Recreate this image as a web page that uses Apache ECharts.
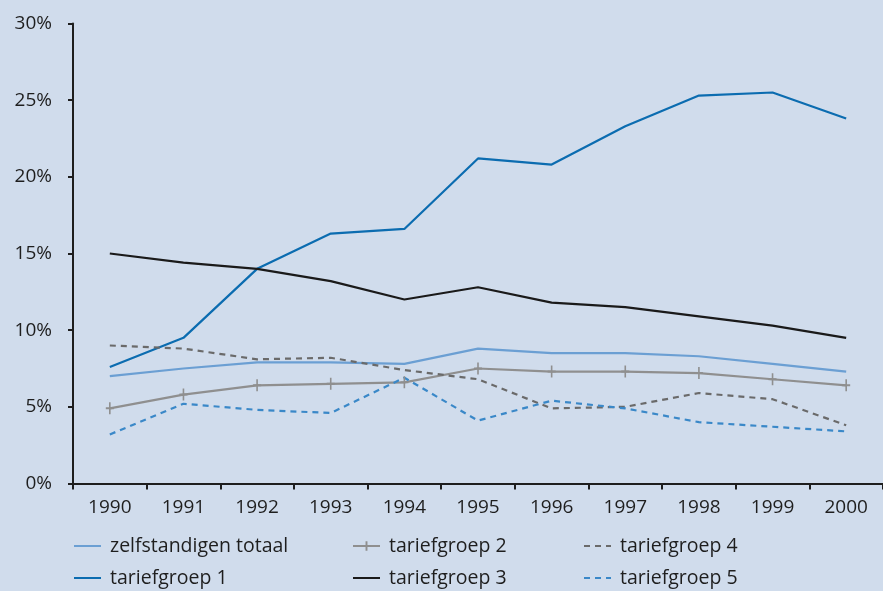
<!DOCTYPE html>
<html>
<head>
<meta charset="utf-8">
<script src="https://cdn.jsdelivr.net/npm/echarts@6/dist/echarts.min.js"></script>
<style>
  html, body {margin: 0; padding: 0; background: #d0dcec;}
  #display {width: 883px; height: 591px;}
</style>
</head>
<body>
<div id="display"></div>
<script>
var years = ['1990', '1991', '1992', '1993', '1994', '1995', '1996', '1997', '1998', '1999', '2000'];
var zelfstandigen = [7.0, 7.5, 7.9, 7.9, 7.8, 8.8, 8.5, 8.5, 8.3, 7.8, 7.3];
var groep1 = [7.6, 9.5, 14.0, 16.3, 16.6, 21.2, 20.8, 23.3, 25.3, 25.5, 23.8];
var groep2 = [4.9, 5.8, 6.4, 6.5, 6.6, 7.5, 7.3, 7.3, 7.2, 6.8, 6.4];
var groep3 = [15.0, 14.4, 14.0, 13.2, 12.0, 12.8, 11.8, 11.5, 10.9, 10.3, 9.5];
var groep4 = [9.0, 8.8, 8.1, 8.2, 7.4, 6.8, 4.9, 5.0, 5.9, 5.5, 3.8];
var groep5 = [3.2, 5.2, 4.8, 4.6, 6.9, 4.1, 5.4, 4.9, 4.0, 3.7, 3.4];
var yTicks = [0, 5, 10, 15, 20, 25, 30];

var font = '"Open Sans", "Noto Sans", sans-serif';
var plus = 'path://M-1,-6 L1,-6 L1,-1 L5,-1 L5,1 L1,1 L1,6 L-1,6 L-1,1 L-5,1 L-5,-1 L-1,-1 Z';

function mkSeries(name, data, color, type, symbol) {
    return {
        name: name,
        type: 'line',
        data: data,
        symbol: symbol || 'none',
        symbolSize: [8, 12],
        showSymbol: !!symbol,
        itemStyle: {color: color},
        lineStyle: {color: color, width: 2.2, type: type || 'solid'},
        animation: false,
        z: 3
    };
}

function mkLegend(name, left, top, keepSymbol) {
    var lg = {
        data: [name],
        left: left,
        top: top,
        padding: 0,
        itemWidth: 27,
        itemHeight: 12,
        itemGap: 0,
        textStyle: {fontFamily: font, fontSize: 19.5, color: '#1e1e1e', padding: [0, 0, 0, 4]},
        selectedMode: false
    };
    if (!keepSymbol) {
        lg.itemStyle = {color: 'rgba(0,0,0,0)', borderColor: 'rgba(0,0,0,0)', borderWidth: 0, opacity: 0};
    }
    return lg;
}

var myChart = echarts.init(document.getElementById('display'));
myChart.setOption({
    backgroundColor: '#d0dcec',
    grid: {left: 73, right: -2, top: 23.5, bottom: 107.5},
    xAxis: {
        type: 'category',
        data: years,
        boundaryGap: true,
        axisLine: {lineStyle: {color: '#1e1e1e', width: 2}},
        axisTick: {show: true, length: 6, lineStyle: {color: '#1e1e1e', width: 2}},
        axisLabel: {fontFamily: font, fontSize: 19, color: '#1e1e1e', margin: 15}
    },
    yAxis: {
        type: 'value',
        min: yTicks[0],
        max: yTicks[yTicks.length - 1],
        interval: 5,
        splitLine: {show: false},
        axisLine: {show: true, lineStyle: {color: '#1e1e1e', width: 2}},
        axisTick: {show: true, length: 5, lineStyle: {color: '#1e1e1e', width: 2}},
        axisLabel: {fontFamily: font, fontSize: 19, color: '#1e1e1e', margin: 21,
            formatter: function (v) { return v + '%'; }}
    },
    legend: [
        mkLegend('zelfstandigen totaal', 73, 536),
        mkLegend('tariefgroep 1', 73, 568),
        mkLegend('tariefgroep 2', 352, 536, true),
        mkLegend('tariefgroep 3', 352, 568),
        mkLegend('tariefgroep 4', 583, 536),
        mkLegend('tariefgroep 5', 583, 568)
    ],
    series: [
        mkSeries('zelfstandigen totaal', zelfstandigen, '#6b9fd3'),
        mkSeries('tariefgroep 1', groep1, '#0b6cb0'),
        mkSeries('tariefgroep 2', groep2, '#8f8f8f', 'solid', plus),
        mkSeries('tariefgroep 3', groep3, '#1a1a1a'),
        mkSeries('tariefgroep 4', groep4, '#6a6a6a', [6, 5]),
        mkSeries('tariefgroep 5', groep5, '#3a88c8', [6, 5])
    ]
});
</script>
</body>
</html>
